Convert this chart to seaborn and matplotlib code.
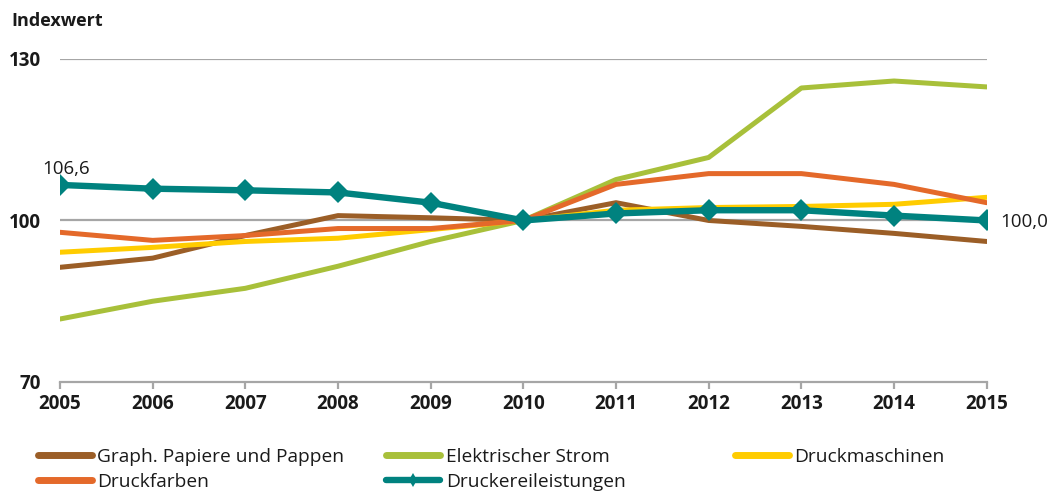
import matplotlib
matplotlib.use("Agg")
import matplotlib.pyplot as plt
import seaborn as sns
import pandas as pd
from matplotlib.lines import Line2D

years = [2005, 2006, 2007, 2008, 2009, 2010, 2011, 2012, 2013, 2014, 2015]
papiere = [91.3, 93.0, 97.2, 100.9, 100.5, 100.0, 103.3, 100.0, 98.9, 97.6, 96.1]
strom = [81.7, 85.0, 87.4, 91.5, 96.1, 100.0, 107.6, 111.7, 124.6, 125.9, 124.8]
maschinen = [94.1, 95.0, 96.1, 96.7, 98.3, 100.0, 101.9, 102.4, 102.6, 103.0, 104.3]
farben = [97.8, 96.3, 97.2, 98.5, 98.5, 100.0, 106.7, 108.7, 108.7, 106.7, 103.3]
druckerei = [106.6, 105.9, 105.6, 105.2, 103.3, 100.0, 101.3, 101.9, 101.9, 100.9, 100.0]

names = ["Graph. Papiere und Pappen", "Elektrischer Strom", "Druckmaschinen",
         "Druckfarben", "Druckereileistungen"]
colors = ["#9B5E27", "#A8C03A", "#FFCC00", "#E4692A", "#00827F"]

sns.set_theme(style="white")
plt.rcParams['font.family'] = ['Open Sans', 'DejaVu Sans']

fig = plt.figure(figsize=(10.53, 4.91), dpi=100)
ax = fig.add_axes([0.057, 0.222, 0.880, 0.658])

for ref in (100, 130):
    ax.axhline(ref, color="#A6A6A6", lw=1.6, zorder=0)

series = [papiere, strom, maschinen, farben, druckerei]
for i, (n, vals, c) in enumerate(zip(names, series, colors)):
    df = pd.DataFrame({"Jahr": years, "Wert": vals})
    if n == "Druckereileistungen":
        sns.lineplot(data=df, x="Jahr", y="Wert", ax=ax, color=c, lw=4.6,
                     marker="D", markersize=11, markeredgewidth=0, zorder=5)
    else:
        sns.lineplot(data=df, x="Jahr", y="Wert", ax=ax, color=c, lw=3.6, zorder=2 + i * 0.1)

ax.set_xlim(years[0], years[-1])
ax.set_ylim(70, 130)
ax.set_yticks([70, 100, 130])
ax.set_xticks(years)
ax.set_xlabel("")
ax.set_ylabel("")
for s in ["top", "right", "left"]:
    ax.spines[s].set_visible(False)
ax.spines["bottom"].set_color("#A6A6A6")
ax.spines["bottom"].set_linewidth(1.6)
ax.tick_params(axis="x", which="both", bottom=True, length=5, width=1.6, color="#A6A6A6",
               labelsize=13.5, pad=4)
ax.tick_params(axis="y", length=0, labelsize=13.5, pad=14)
for lbl in ax.get_xticklabels() + ax.get_yticklabels():
    lbl.set_fontweight("bold")
    lbl.set_color("#1A1A1A")

ax.annotate("106,6", (years[0], druckerei[0]), xytext=(-13, 5), textcoords="offset points",
            fontsize=13.5, color="#1A1A1A", ha="left", va="bottom", annotation_clip=False)
ax.annotate("100,0", (years[-1], druckerei[-1]), xytext=(10, -1), textcoords="offset points",
            fontsize=13.5, color="#1A1A1A", ha="left", va="center", annotation_clip=False)

fig.text(0.011, 0.958, "Indexwert", fontsize=13, fontweight="bold", color="#1A1A1A",
         ha="left", va="center")

def handle(i):
    if names[i] == "Druckereileistungen":
        return Line2D([], [], color=colors[i], lw=4.6, marker="d", markersize=7,
                      markeredgewidth=0, markevery=[1], solid_capstyle="round")
    return Line2D([], [], color=colors[i], lw=5, solid_capstyle="round")

cols = [[0, 3], [1, 4], [2]]
xs = [0.036, 0.367, 0.698]
for xpos, idx in zip(xs, cols):
    leg = fig.legend([handle(i) for i in idx], [names[i] for i in idx],
                     loc="upper left", bbox_to_anchor=(xpos, 0.088), frameon=False,
                     fontsize=13.8, handlelength=2.8, handletextpad=0.3,
                     borderpad=0, borderaxespad=0, labelspacing=0.36)
    for t in leg.get_texts():
        t.set_color("#1A1A1A")

fig.savefig("out.png", dpi=100)
